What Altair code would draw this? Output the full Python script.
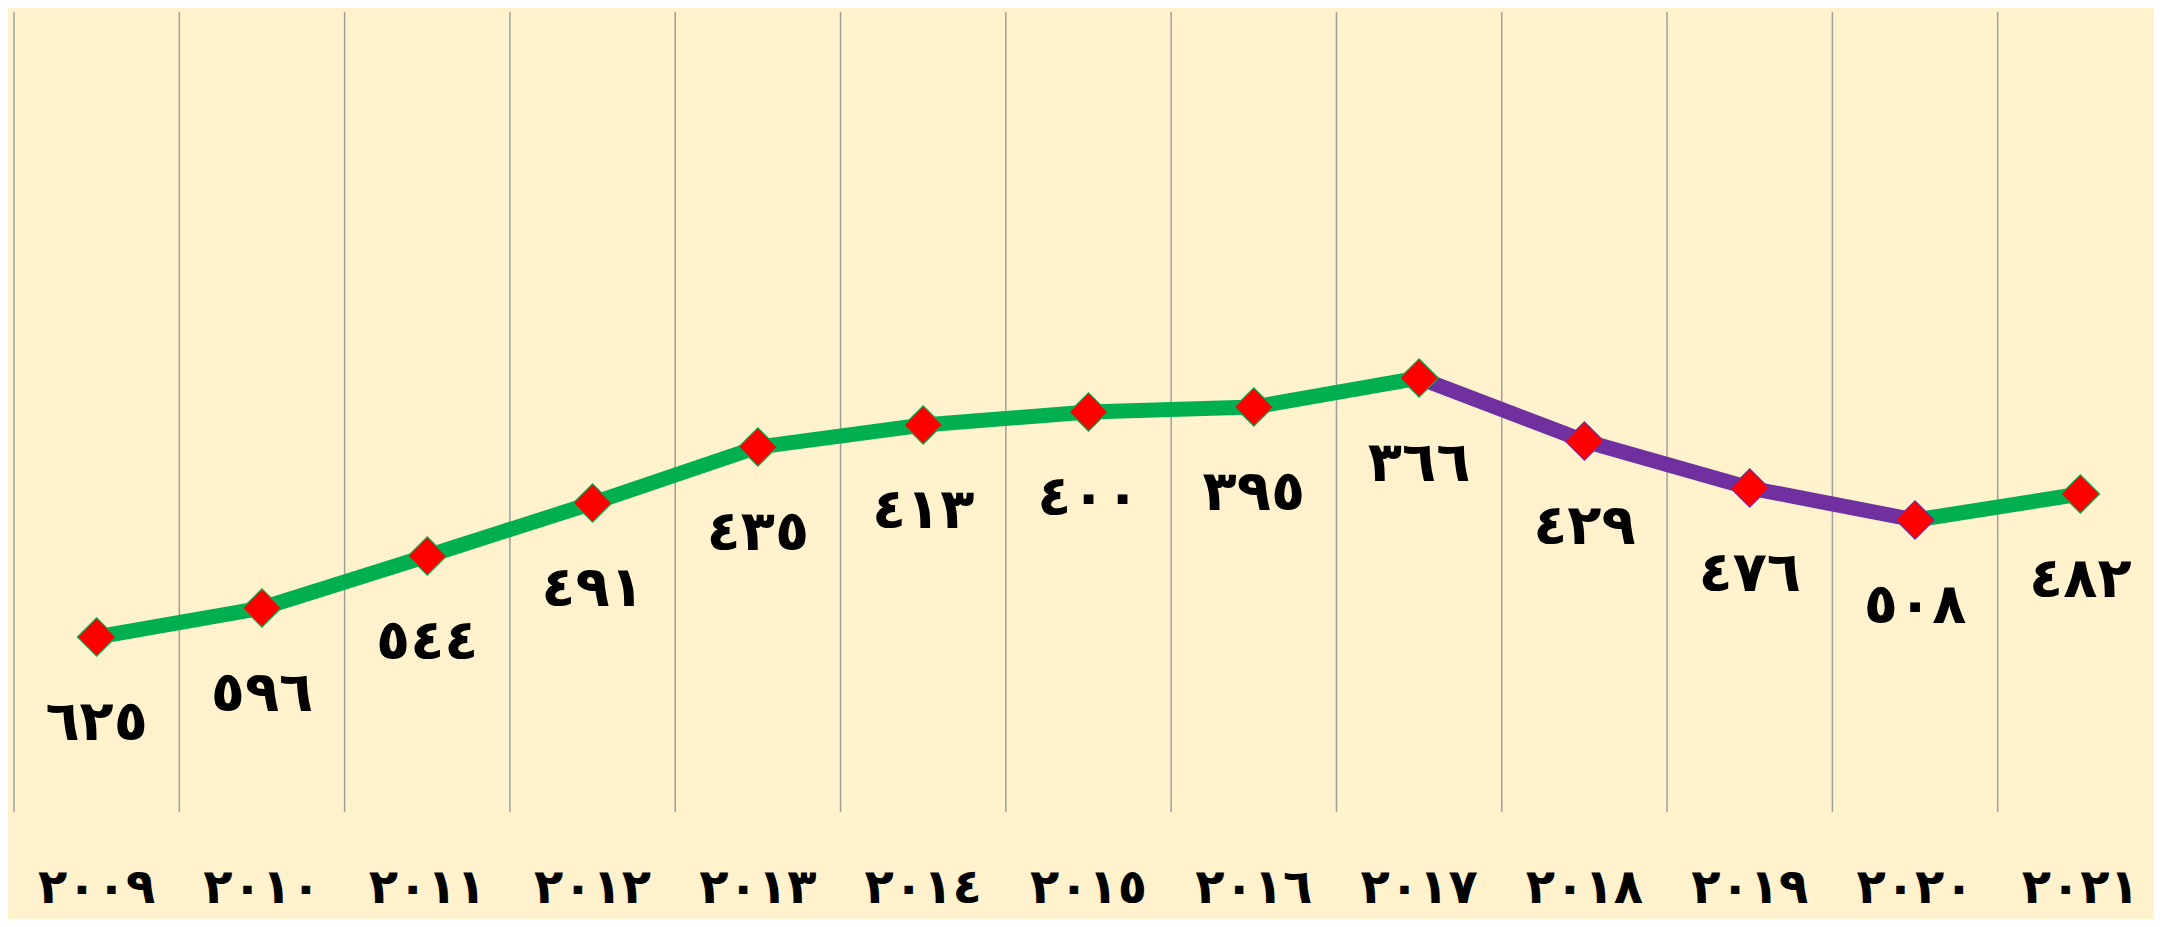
import altair as alt
import pandas as pd

# ---- data ----
years_ar = ["٢٠٠٩", "٢٠١٠", "٢٠١١", "٢٠١٢", "٢٠١٣", "٢٠١٤", "٢٠١٥",
            "٢٠١٦", "٢٠١٧", "٢٠١٨", "٢٠١٩", "٢٠٢٠", "٢٠٢١"]
values = [625, 596, 544, 491, 435, 413, 400, 395, 366, 429, 476, 508, 482]
value_labels = ["٦٢٥", "٥٩٦", "٥٤٤", "٤٩١", "٤٣٥", "٤١٣", "٤٠٠",
                "٣٩٥", "٣٦٦", "٤٢٩", "٤٧٦", "٥٠٨", "٤٨٢"]
# colour of the line segment that ends at each point (first point: its own border)
GREEN = "#00B050"
PURPLE = "#7030A0"
point_line_colors = [GREEN] * 9 + [PURPLE] * 3 + [GREEN]

FONT = "DejaVu Sans"

pts = pd.DataFrame({
    "year": years_ar,
    "value": values,
    "label": value_labels,
    "lc": point_line_colors,
})

seg_rows = []
for i in range(1, len(years_ar)):
    for j in (i - 1, i):
        seg_rows.append({"seg": i, "year": years_ar[j], "value": values[j],
                         "lc": point_line_colors[i]})
segs = pd.DataFrame(seg_rows)

# 13 equal bands; the last band runs slightly past the right edge as in the reference
x_scale = alt.Scale(type="band", domain=years_ar, paddingInner=0, paddingOuter=0,
                    range=[0, 2149])
y_scale = alt.Scale(domain=[0, 800], reverse=True, nice=False, zero=False)
x_axis = alt.Axis(title=None, domain=False, ticks=False, tickSize=0, grid=False,
                  labelAngle=0, labelFont=FONT, labelFontSize=48,
                  labelFontWeight="bold", labelColor="#000000",
                  labelPadding=76, labelBaseline="middle", labelAlign="center")

grid = alt.Chart(pts).mark_rule(color="#9E9E9E", strokeWidth=1.5).encode(
    x=alt.X("year:O", scale=x_scale, axis=x_axis, sort=years_ar, bandPosition=0),
)

lines = alt.Chart(segs).mark_line(strokeWidth=15, strokeCap="butt").encode(
    x=alt.X("year:O", scale=x_scale, axis=x_axis, sort=years_ar, bandPosition=0.5),
    y=alt.Y("value:Q", scale=y_scale, axis=None),
    detail="seg:N",
    color=alt.Color("lc:N", scale=None),
)

points = alt.Chart(pts).mark_point(shape="diamond", size=1480, filled=True,
                                   fill="#FF0000", strokeWidth=1.2, opacity=1).encode(
    x=alt.X("year:O", scale=x_scale, axis=x_axis, sort=years_ar, bandPosition=0.5),
    y=alt.Y("value:Q", scale=y_scale, axis=None),
    stroke=alt.Stroke("lc:N", scale=None),
)

labels = alt.Chart(pts).mark_text(font=FONT, fontSize=56, fontWeight="bold",
                                  color="#000000", baseline="middle",
                                  align="center", dy=86).encode(
    x=alt.X("year:O", scale=x_scale, axis=x_axis, sort=years_ar, bandPosition=0.5),
    y=alt.Y("value:Q", scale=y_scale, axis=None),
    text="label:N",
)

chart = alt.layer(grid, lines, points, labels).properties(
    width=2140,
    height=800,
    background="#FFF2CC",
    padding={"left": 6, "top": 4, "right": 0, "bottom": 107},
    autosize=alt.AutoSizeParams(type="none"),
).configure_view(stroke=None)

chart.save("out.html", embed_options={"renderer": "svg", "actions": False})
